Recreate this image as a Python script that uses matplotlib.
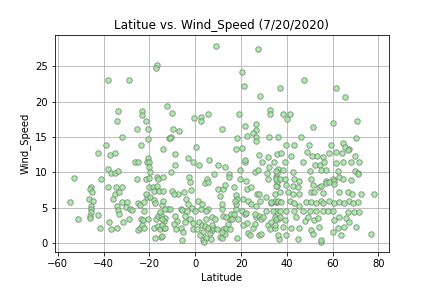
import matplotlib
matplotlib.use("Agg")
import matplotlib.pyplot as plt

title = "Latitue vs. Wind_Speed (7/20/2020)"
x_label = "Latitude"
y_label = "Wind_Speed"

# (latitude, wind speed) pairs, grouped by region
upper_left = [(-16.5,25.2),(-17.1,24.7),(-37.9,23.0),(-28.8,23.0),(-12.2,19.4),(-33.6,18.7),(-23.1,18.7),
              (-23.1,18.1),(-34.0,17.3),(-21.5,17.3),(-25.3,16.2),(-20.5,16.2),(-31.8,15.0),(-20.5,14.7),
              (-11.3,14.9),(-38.8,13.8),(-23.5,13.9),(-14.0,13.3)]
south = [(-42.6,12.8),(-37.4,12.4),(-35.2,12.8),(-20.6,12.1),(-26.5,11.4),(-24.8,11.4),(-21.0,11.4),(-20.1,11.4),
         (-38.3,10.5),(-37.0,9.9),(-35.2,9.9),(-33.7,10.2),(-20.3,10.7),(-19.7,10.0),(-53.0,9.2),(-41.3,9.1),
         (-25.5,9.0),(-21.4,9.1),(-20.3,9.2),(-16.8,9.3),(-16.2,9.0),
         (-45.6,8.0),(-46.1,7.6),(-45.3,7.2),(-46.5,6.3),(-44.8,5.9),(-45.6,5.3),(-45.6,4.8),(-45.6,4.4),
         (-46.1,3.8),(-46.1,3.5),(-42.4,4.0),(-51.3,3.4),(-54.9,5.8),(-41.7,2.2),
         (-38.3,8.0),(-34.8,8.0),(-32.2,7.9),(-35.2,6.9),(-33.5,7.2),(-36.1,6.2),(-32.0,5.8),(-29.6,5.8),
         (-34.0,5.2),(-33.8,4.7),(-33.3,4.1),(-30.4,5.1),(-28.7,4.8),(-27.5,4.7),(-25.2,5.6),(-24.3,5.4),
         (-22.6,5.8),(-20.9,6.5),(-19.7,6.5),
         (-37.8,3.0),(-37.0,2.0),(-34.3,2.2),(-31.6,3.0),(-29.1,3.4),(-25.2,1.9),(-24.0,2.2),(-23.2,2.6),
         (-22.4,2.2),(-23.9,3.4),(-22.9,3.2),(-20.7,3.4),(-17.1,3.4),(-16.1,3.8),(-13.2,3.5),(-14.9,4.0),
         (-13.6,3.1),(-18.0,2.2),(-16.1,2.4),(-15.5,2.0),(-13.6,2.1),(-17.4,0.7),(-14.9,0.9),(-11.7,4.8),
         (-20.3,8.0),(-18.4,8.0),(-16.7,8.1),(-17.8,7.4),(-15.9,7.3),(-17.8,6.1),(-17.4,5.7),(-14.5,5.4),
         (-21.7,6.9),(-22.4,4.6)]
upper_mid = [(9.1,27.9),(27.4,27.5),(20.4,24.2),(21.3,22.2),(28.3,20.8),(36.8,21.9),(-10.0,18.4),(-0.6,17.7),
             (2.6,17.8),(2.6,17.3),(5.7,18.3),(-9.6,16.2),(-7.0,15.8),(11.7,16.2),(19.1,18.3),(32.6,18.8),
             (32.6,18.3),(-10.4,15.0),(-10.9,14.9),(18.3,14.9),(21.7,16.6),(26.3,16.9),(26.3,16.0),(25.2,15.6),
             (22.6,15.1),(26.5,15.0),(26.3,14.5),(32.2,15.0),(36.1,15.0),(0.4,13.6),(20.4,13.5)]
upper_right = [(47.4,23.0),(61.3,21.9),(65.2,20.6),(38.4,18.3),(41.4,18.3),(40.1,17.6),(70.5,17.3),(60.0,17.0),
               (51.3,16.4),(70.0,14.9),(46.1,15.0),(39.6,13.9),(43.0,13.9),(49.6,13.9),(59.1,13.9),(64.4,14.2),
               (65.2,13.6),(67.0,13.3)]
mid = [(-8.7,12.6),(-3.0,12.1),(-0.9,11.5),(-8.7,11.0),(1.7,11.0),(6.1,11.7),(10.0,11.0),(13.1,10.7),(14.8,9.8),
       (14.8,9.4),(8.3,9.8),(19.6,10.3),(21.7,11.5),(21.7,11.8),(17.7,13.3),(27.7,12.4),(29.1,11.4),(31.7,12.2),
       (32.2,10.7),(35.7,12.6),(36.3,10.5),(35.2,9.3),
       (-13.9,7.4),(-13.9,6.0),(-13.9,9.4),(-10.4,10.0),(-10.0,7.3),(-7.4,7.0),(-9.1,6.9),(-2.7,9.3),(-2.3,8.6),
       (4.3,8.5),(5.2,9.0),(5.7,8.7),(10.0,7.7),(12.2,7.7),(13.1,8.2),(10.9,6.6),(16.8,7.9),(17.8,6.8),(18.3,6.2),
       (19.6,9.0),(22.2,8.8),(22.6,7.7),(24.5,8.0),(27.0,6.9),(27.8,6.9),(26.1,10.0),(27.3,10.3),(31.5,9.9),
       (31.9,9.0),(35.5,9.9),(35.7,8.1),(35.5,8.6),(35.1,5.8),(35.9,5.8),
       (-5.0,7.2),(-4.0,6.2),(-1.5,5.0),(0.0,4.5),(-2.0,7.5),(1.0,6.0),(2.5,4.8),(3.0,5.5)]
low_mid = [(-15.4,4.35),(-13.2,4.8),(-11.0,4.8),(-8.8,3.9),(-7.8,3.1),(-6.4,4.8),(-5.9,4.7),(-4.5,3.9),(-3.3,5.5),
           (-3.5,4.6),(-2.3,3.4),(-1.1,2.9),(-4.5,3.0),(-6.4,2.1),(-5.5,1.5),(-8.4,2.0),(-9.3,2.7),(-14.6,3.4),
           (-14.6,2.5),(-14.6,1.0),(-13.2,2.2),(-0.9,2.0),(0.6,2.0),(1.7,3.0),(2.8,2.6),(3.2,1.5),(4.4,2.4),
           (5.5,2.1),(6.4,1.4),(7.3,1.8),(7.8,2.2),(9.3,2.0),(10.7,0.8),(11.7,0.7),(12.2,2.0),(12.9,1.3),
           (13.6,2.2),(14.4,2.7),(15.1,3.4),(15.8,4.1),(11.5,4.8),(11.5,5.5),(5.7,4.8),(4.9,4.6),(7.4,3.7),
           (8.6,3.4),(12.2,3.9),(13.6,3.7),(16.1,3.4),(16.8,4.1),(18.0,4.8),(18.0,5.5),(17.4,6.0),(20.4,4.6),
           (21.6,4.1),(22.6,2.8),(23.1,1.4),(23.8,1.1),(25.2,2.2),(26.0,2.7),(26.7,3.7),(27.8,3.8),(28.8,3.4),
           (29.6,3.7),(31.0,4.6),(31.7,2.5),(32.5,2.0),(32.9,3.0),(34.6,2.2),(34.6,3.7),(35.4,4.6),(36.1,3.4),
           (27.8,1.1),(28.8,1.3),(4.9,3.4),(7.1,2.5),(2.0,1.1),(3.5,0.4),(4.9,0.7),(11.5,1.5),(15.1,2.0),
           (18.7,3.4),(20.9,2.5),(-5.9,0.5),(3.8,0.1),(6.7,0.6),(18.3,0.7),(36.5,0.6),(44.8,0.6),(54.7,0.1),
           (20.9,6.2),(23.1,6.0),(24.5,5.5),(26.7,5.3),(28.1,6.0),(31.0,6.5),(33.2,5.7),(34.6,6.0),(22.3,4.3),
           (26.0,4.1)]
north = [(34.4,11.4),(35.4,10.2),(35.1,9.1),(35.4,8.1),(34.7,6.9),(33.2,5.8),(36.1,6.0),(33.9,4.6),(35.4,3.4),
         (34.7,2.5),(36.1,1.1),
         (37.6,12.7),(41.9,12.3),(48.7,12.9),(50.9,12.3),(53.2,12.3),(55.7,12.2),(58.6,12.8),(61.5,12.9),
         (63.9,12.8),(66.5,13.1),(69.9,12.3),(47.0,11.5),(39.0,11.4),(52.3,11.0),(54.5,11.1),(56.0,11.4),
         (61.5,11.3),(64.3,11.4),(68.0,11.5),(71.6,11.4),
         (38.3,10.4),(42.6,10.1),(49.9,10.2),(55.0,10.3),(57.1,10.3),(62.5,10.2),(69.9,10.2),(71.2,9.9),
         (36.8,9.0),(39.0,9.0),(43.3,9.1),(45.5,8.8),(50.6,9.0),(57.1,8.8),(60.0,9.1),(60.7,8.8),(62.9,9.4),
         (64.3,9.1),(68.0,8.9),(70.9,9.7),
         (39.7,8.2),(42.6,8.1),(44.8,8.0),(51.3,8.2),(53.9,8.0),(55.0,8.1),(57.1,8.5),(58.6,8.6),(60.7,8.3),
         (36.8,7.2),(40.4,7.2),(42.6,6.9),(45.1,6.9),(50.6,7.2),(52.0,7.2),(55.7,7.1),(62.9,7.2),(66.5,7.2),
         (68.4,6.9),(72.3,7.0),(78.1,6.9),
         (37.6,5.8),(41.2,6.0),(43.3,5.6),(45.5,5.3),(48.4,5.8),(50.6,5.8),(52.8,5.6),(55.0,6.0),(55.7,5.6),
         (58.6,6.0),(60.7,5.6),(62.9,5.8),(65.1,5.6),(67.3,6.0),(68.7,5.6),(70.9,5.8),
         (36.8,4.6),(39.7,4.6),(43.3,4.6),(47.0,4.6),(49.9,4.6),(52.8,4.6),(55.7,4.6),(57.8,4.6),(60.0,4.6),
         (66.5,4.4),(69.4,4.4),(71.6,4.4),
         (36.8,3.7),(39.0,3.2),(44.1,3.7),(47.7,3.1),(49.1,3.7),(52.0,3.2),(53.5,3.5),(60.7,3.2),(62.9,3.7),
         (65.8,3.5),(67.3,3.0),
         (38.3,2.3),(41.9,2.1),(45.5,2.1),(50.6,1.8),(54.2,2.3),(60.0,1.6),(62.2,2.1),(65.1,2.3),(70.2,2.3),
         (39.7,1.1),(51.3,1.3),(63.7,1.1),(76.7,1.3),(55.0,0.4)]

groups = [upper_left, south, upper_mid, upper_right, mid, low_mid, north]
lat = [p[0] for g in groups for p in g]
wind = [p[1] for g in groups for p in g]

fig = plt.figure(figsize=(6, 4), dpi=72)
ax = fig.add_axes([0.127, 0.124, 0.773, 0.754])
ax.scatter(lat, wind, s=30, facecolors="lightgreen", edgecolors="gray",
           linewidths=1.0, alpha=0.8, zorder=3)
ax.grid(True, zorder=0)
ax.set_axisbelow(True)
ax.set_xlim(-61.3, 84.5)
ax.set_ylim(-1.3, 29.4)
ax.set_title(title)
ax.set_xlabel(x_label)
ax.set_ylabel(y_label)
fig.savefig("out.png", dpi=72)
